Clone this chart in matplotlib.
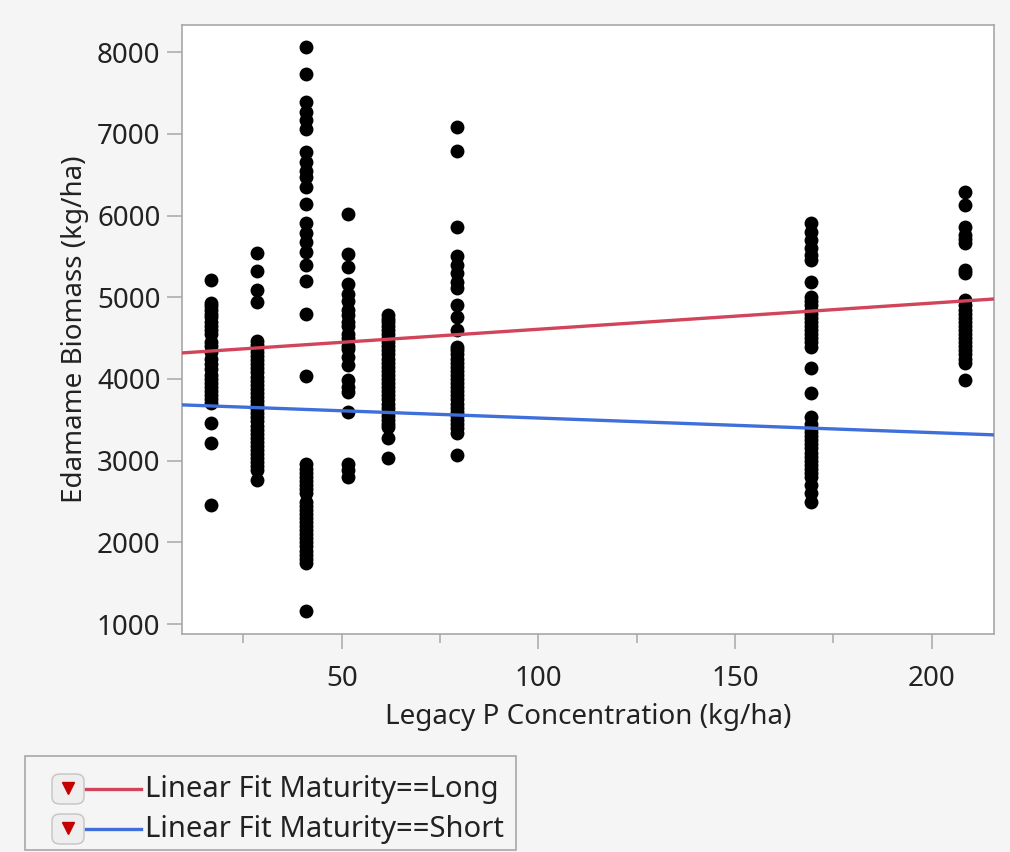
import matplotlib
matplotlib.use("Agg")
import matplotlib.pyplot as plt
from matplotlib.patches import Rectangle, FancyBboxPatch
from matplotlib.lines import Line2D
import numpy as np

plt.rcParams['font.family'] = ['Noto Sans', 'DejaVu Sans']

# fosfor-niveaus (x) en biomassa per kolom (y)
p_levels = [16.8, 28.5, 41.0, 51.7, 61.8, 79.4, 169.2, 208.4]

biomass_p17 = [5210, 4930, 4890, 4850, 4800, 4760, 4700, 4650, 4600, 4550, 4450, 4400,
               4330, 4250, 4180, 4120, 4050, 4000, 3950, 3900, 3850, 3800, 3750, 3710,
               3460, 3220, 2460]
biomass_p28 = [5545, 5325, 5090, 4945, 4466, 4420, 4380, 4330, 4280, 4230, 4180, 4130,
               4080, 4030, 3980, 3930, 3880, 3830, 3780, 3730, 3680, 3630, 3580, 3530,
               3480, 3430, 3380, 3330, 3280, 3230, 3180, 3130, 3080, 3030, 2980, 2930,
               2880, 2760]
biomass_p41 = [8065, 7740, 7390, 7270, 7165, 7060, 6780, 6660, 6545, 6470, 6355, 6145,
               5910, 5790, 5675, 5560, 5395, 5205, 4795, 4035, 2955, 2900, 2850, 2800,
               2750, 2700, 2650, 2600, 2500, 2450, 2400, 2350, 2300, 2250, 2200, 2150,
               2100, 2050, 2000, 1950, 1900, 1850, 1800, 1750, 1155]
biomass_p52 = [6015, 5535, 5370, 5160, 5040, 4950, 4850, 4785, 4700, 4645, 4550, 4505,
               4400, 4365, 4270, 4175, 3985, 3900, 3845, 3590, 2955, 2880, 2795]
biomass_p62 = [4780, 4740, 4700, 4650, 4600, 4550, 4500, 4450, 4400, 4350, 4300, 4250,
               4200, 4150, 4100, 4050, 4000, 3950, 3900, 3850, 3800, 3750, 3700, 3650,
               3600, 3550, 3500, 3450, 3415, 3275, 3030]
biomass_p80 = [7090, 6795, 5865, 5500, 5395, 5295, 5190, 5110, 4905, 4765, 4600, 4395,
               4350, 4300, 4250, 4200, 4150, 4100, 4050, 4000, 3950, 3900, 3850, 3800,
               3750, 3700, 3650, 3600, 3550, 3500, 3450, 3400, 3340, 3070]
biomass_p169 = [5905, 5800, 5700, 5600, 5520, 5460, 5190, 5005, 4950, 4900, 4850, 4800,
                4750, 4700, 4650, 4600, 4550, 4500, 4450, 4395, 4130, 3825, 3540, 3450,
                3400, 3350, 3300, 3250, 3200, 3150, 3100, 3050, 3000, 2950, 2900, 2850,
                2800, 2700, 2600, 2490]
biomass_p208 = [6295, 6130, 5865, 5765, 5720, 5660, 5330, 5295, 4965, 4900, 4850, 4800,
                4750, 4700, 4650, 4600, 4550, 4500, 4450, 4400, 4350, 4300, 4250, 4195,
                3990]

biomass_columns = [biomass_p17, biomass_p28, biomass_p41, biomass_p52,
                   biomass_p62, biomass_p80, biomass_p169, biomass_p208]

# lineaire fits: (intercept, helling)
fit_long = (4289, 3.20)
fit_short = (3700, -1.78)
legend_labels = ["Linear Fit Maturity==Long", "Linear Fit Maturity==Short"]

x_limits = (9.4, 215.8)
y_limits = (878, 8334)

red = "#d2445a"
blue = "#3f6fdb"
grey_bg = "#f5f5f5"
axis_grey = "#a8a8a8"
text_col = "#222222"

W, H = 1010, 852
fig = plt.figure(figsize=(W / 100, H / 100), dpi=100, facecolor=grey_bg)
ax = fig.add_axes([182 / W, 1 - 634 / H, (994 - 182) / W, (634 - 25) / H])
ax.set_facecolor("white")

# punten per kolom
for x_value, column in zip(p_levels, biomass_columns):
    ax.scatter(np.full(len(column), x_value), column, s=100, color="black",
               linewidths=0, zorder=2)

# fitlijnen
x_line = np.array(x_limits)
for (b0, b1), colour in [(fit_long, red), (fit_short, blue)]:
    ax.plot(x_line, b0 + b1 * x_line, color=colour, linewidth=2.4, zorder=3)

ax.set_xlim(*x_limits)
ax.set_ylim(*y_limits)
ax.set_xticks([50, 100, 150, 200])
ax.set_xticks([25, 75, 125, 175], minor=True)
ax.set_yticks(range(1000, 9000, 1000))

for spine in ax.spines.values():
    spine.set_color(axis_grey)
    spine.set_linewidth(1.2)
ax.tick_params(which="major", length=10.5, width=1.1, color=axis_grey,
               labelsize=20, labelcolor=text_col, pad=5)
ax.tick_params(axis="x", which="major", pad=12)
ax.tick_params(which="minor", length=6.5, width=1.1, color=axis_grey)

ax.set_xlabel("Legacy P Concentration (kg/ha)", fontsize=20, color=text_col, labelpad=7)
ax.set_ylabel("Edamame Biomass (kg/ha)", fontsize=20, color=text_col, labelpad=6)

# legenda-kader onder de grafiek, zoals in JMP
def px(x, y):
    return x / W, 1 - y / H

x0, y0 = px(25, 850)
fig.add_artist(Rectangle((x0, y0), (516 - 25) / W, (850 - 756) / H,
                         transform=fig.transFigure, facecolor=grey_bg,
                         edgecolor=axis_grey, linewidth=1.2))

for row, (label, colour) in enumerate(zip(legend_labels, [red, blue])):
    yc = 789 + row * 40
    bx, by = px(52, yc + 15)
    fig.add_artist(FancyBboxPatch((bx, by), 32 / W, 30 / H,
                                  boxstyle="round,pad=0,rounding_size=0.008",
                                  transform=fig.transFigure, facecolor="#eeeeee",
                                  edgecolor="#c4c4c4", linewidth=1.0))
    tx, ty = px(68, yc - 1)
    fig.add_artist(Line2D([tx], [ty], marker="v", markersize=9, color="#c40000",
                          transform=fig.transFigure))
    lx0, ly = px(86, yc)
    lx1, _ = px(141, yc)
    fig.add_artist(Line2D([lx0, lx1], [ly, ly], color=colour, linewidth=2.4,
                          transform=fig.transFigure))
    fig.text(*px(145, yc), label, fontsize=21, color=text_col, va="center", ha="left")

fig.savefig("out.png", dpi=100, facecolor=grey_bg)
